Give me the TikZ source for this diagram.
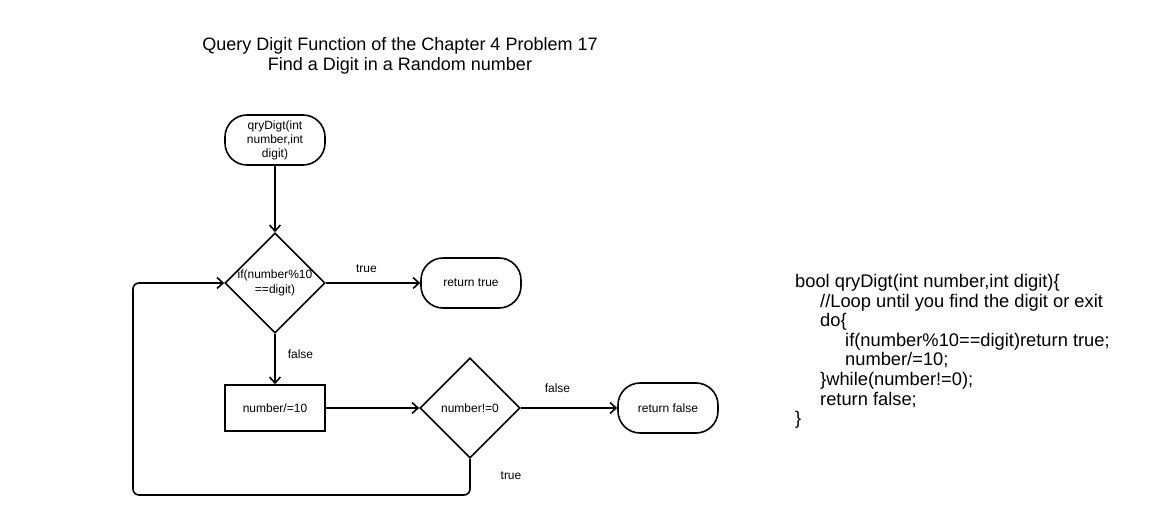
\documentclass[tikz,border=0pt]{standalone}
\usepackage{fontspec}
\setmainfont{Liberation Sans}
\usetikzlibrary{arrows.meta, shapes.geometric}

\tikzset{
  terminal/.style={draw, line width=1.6pt, rounded corners=22pt, minimum width=100pt, minimum height=50pt, inner sep=0pt, align=center, font=\fontsize{12}{14}\selectfont},
  decision/.style={draw, diamond, line width=1.6pt, minimum width=100pt, minimum height=100pt, inner sep=0pt},
  process/.style={draw, rectangle, line width=1.6pt, minimum width=100pt, minimum height=46pt, inner sep=0pt, font=\fontsize{12}{14}\selectfont},
  flow/.style={line width=1.6pt, -{Straight Barb[length=6pt,width=11pt]}},
  lbl/.style={font=\fontsize{12}{15}\selectfont, inner sep=0pt},
}

\begin{document}
\begin{tikzpicture}[x=1pt, y=-1pt]
        \fill[white] (0,0) rectangle (1162,521);
        \useasboundingbox (0,0) rectangle (1162,521);

        % title
        \node[align=center, font=\fontsize{18}{19.5}\selectfont] (title) at (400,56) {Query Digit Function of the Chapter 4 Problem 17\\Find a Digit in a Random number};

        % flowchart
        \node[terminal] (start) at (275,140) {qryDigt(int\\number,int\\digit)};
        \node[decision, label={[lbl, align=center]center:{if(number\%10\\==digit)}}] (testdig) at (275,283) {};
        \node[terminal] (rettrue) at (471,283) {return true};
        \node[process] (divnum) at (275,408) {number/=10};
        \node[decision, label={[lbl]center:number!=0}] (testnum) at (470,408) {};
        \node[terminal] (retfalse) at (668,408) {return false};
        \coordinate (loopcorner) at (133,495);

        \draw[flow] (start) -- (testdig);
        \draw[flow] (testdig) -- node[lbl, pos=0.43, above=10pt] {true} (rettrue);
        \draw[flow] (testdig) -- node[lbl, pos=0.4, right=12pt] {false} (divnum);
        \draw[flow] (divnum) -- (testnum);
        \draw[flow] (testnum) -- node[lbl, pos=0.38, above=15pt] {false} (retfalse);
        \draw[flow, rounded corners=6pt] (testnum.south) |- (loopcorner) |- (testdig.west);
        \node[lbl] (looptrue) at (511,476) {true};

        % source code
        \node[anchor=north west, align=left, inner sep=0pt, font=\fontsize{18.3}{19.6}\selectfont] (code) at (795,274) {%
            bool qryDigt(int number,int digit)\{\\
            \hspace*{25pt}//Loop until you find the digit or exit\\
            \hspace*{25pt}do\{\\
            \hspace*{50pt}if(number\%10==digit)return true;\\
            \hspace*{50pt}number/=10;\\
            \hspace*{25pt}\}while(number!=0);\\
            \hspace*{25pt}return false;\\
            \}};
    \end{tikzpicture}
\end{document}
